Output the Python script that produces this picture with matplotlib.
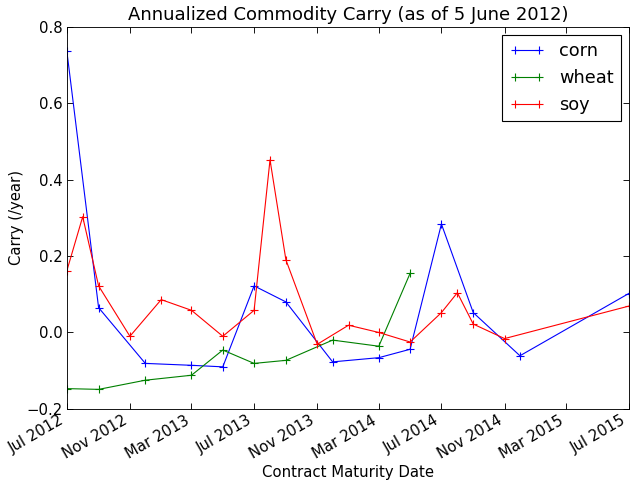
import datetime as dt
import matplotlib
matplotlib.use("Agg")
import matplotlib.pyplot as plt
import matplotlib.dates as mdates

###########################################
#DATA
###########################################
corn_dates = [(2012, 7), (2012, 9), (2012, 12), (2013, 3), (2013, 5), (2013, 7),
              (2013, 9), (2013, 12), (2014, 3), (2014, 5), (2014, 7), (2014, 9),
              (2014, 12), (2015, 7)]
corn_carry = [0.738, 0.065, -0.081, -0.086, -0.090, 0.122, 0.080, -0.077,
              -0.066, -0.044, 0.284, 0.052, -0.061, 0.102]

wheat_dates = [(2012, 7), (2012, 9), (2012, 12), (2013, 3), (2013, 5), (2013, 7),
               (2013, 9), (2013, 12), (2014, 3), (2014, 5)]
wheat_carry = [-0.147, -0.149, -0.125, -0.112, -0.046, -0.081, -0.073, -0.020,
               -0.036, 0.155]

soy_dates = [(2012, 7), (2012, 8), (2012, 9), (2012, 11), (2013, 1), (2013, 3),
             (2013, 5), (2013, 7), (2013, 8), (2013, 9), (2013, 11), (2014, 1),
             (2014, 3), (2014, 5), (2014, 7), (2014, 8), (2014, 9), (2014, 11),
             (2015, 7)]
soy_carry = [0.161, 0.303, 0.122, -0.010, 0.086, 0.058, -0.010, 0.058, 0.452,
             0.190, -0.031, 0.019, 0.000, -0.025, 0.052, 0.104, 0.022, -0.016,
             0.069]

series = [("corn", corn_dates, corn_carry, "#0000ff"),
          ("wheat", wheat_dates, wheat_carry, "#008000"),
          ("soy", soy_dates, soy_carry, "#ff0000")]

###########################################
#PLOT
###########################################
plt.rcParams['font.family'] = 'DejaVu Sans'
plt.rcParams['font.size'] = 13.4

fig = plt.figure(figsize=(630 / 80.0, 481 / 80.0), dpi=80)
ax = fig.add_axes([0.106, 0.150, 0.892, 0.794])

for name, ym, vals, col in series:
    d = [dt.datetime(y, m, 1) for y, m in ym]
    ax.plot(d, vals, color=col, marker='+', ms=7, mew=1.0, lw=1.0, label=name)

ax.set_xlim(dt.datetime(2012, 7, 1), dt.datetime(2015, 7, 1))
ax.set_ylim(-0.2, 0.8)
ax.set_yticks([-0.2, 0.0, 0.2, 0.4, 0.6, 0.8])
ax.xaxis.set_major_locator(mdates.MonthLocator(bymonth=[3, 7, 11]))
ax.xaxis.set_major_formatter(mdates.DateFormatter('%b %Y'))
ax.tick_params(direction='in', top=True, right=True, length=5, labelsize=13.4)
for lab in ax.get_xticklabels():
    lab.set_rotation(30)
    lab.set_ha('right')

ax.set_title('Annualized Commodity Carry (as of 5 June 2012)', fontsize=16.2)
ax.set_xlabel('Contract Maturity Date', labelpad=3)
ax.set_ylabel('Carry (/year)', labelpad=2)

leg = ax.legend(loc='upper right', numpoints=2, fontsize=16, fancybox=False,
                handlelength=2.0, borderaxespad=0.45)
leg.get_frame().set_edgecolor('black')
leg.get_frame().set_alpha(1.0)

fig.savefig('out.png', dpi=80)
